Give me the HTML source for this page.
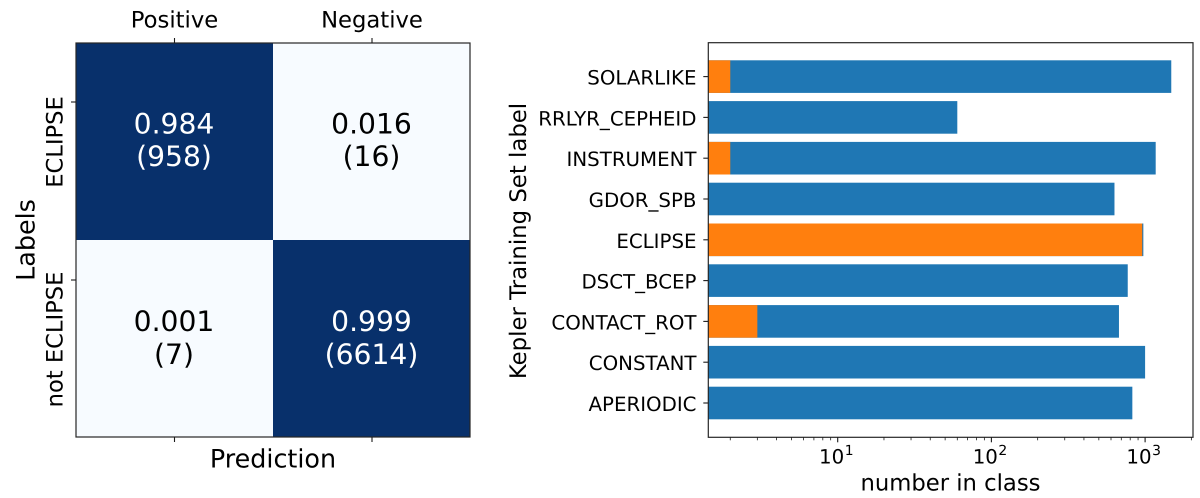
<!DOCTYPE html>
<html lang="en">
<head>
<meta charset="utf-8">
<title>Confusion matrix and Kepler training set classes</title>
<style>
html,body{margin:0;padding:0;background:#fff;}
svg{display:block;font-family:"DejaVu Sans","Liberation Sans",sans-serif;text-rendering:geometricPrecision;filter:blur(0.35px);}
</style>
</head>
<body>
<svg id="fig" width="1200" height="498" viewBox="0 0 1200 498" xmlns="http://www.w3.org/2000/svg"></svg>
<script>
// Confusion matrix data
const matrixColumns = ['Positive', 'Negative'];
const matrixRows = ['ECLIPSE', 'not ECLIPSE'];
const matrixRates = [[0.984, 0.016], [0.001, 0.999]];
const matrixCounts = [[958, 16], [7, 6614]];

// Bar chart data
const categories = ['APERIODIC', 'CONSTANT', 'CONTACT_ROT', 'DSCT_BCEP', 'ECLIPSE', 'GDOR_SPB', 'INSTRUMENT', 'RRLYR_CEPHEID', 'SOLARLIKE'];
const totalCounts = [826, 1000, 676, 771, 974, 632, 1172, 60, 1480];
const eclipseCounts = [0, 0, 3, 0, 958, 0, 2, 0, 2];
const xTickExponents = [1, 2, 3];
const xMinorDecades = [0, 1, 2, 3];
const xMinorMultipliers = [2, 3, 4, 5, 6, 7, 8, 9];

const svg = document.getElementById('fig');
const NS = 'http://www.w3.org/2000/svg';
const INK = '#1a1a1a';
const SPINE = '#262626';

function make(tag, attrs, parent) {
  const el = document.createElementNS(NS, tag);
  for (const k in attrs) el.setAttribute(k, attrs[k]);
  (parent || svg).appendChild(el);
  return el;
}
function label(str, x, y, size, anchor, rot, fill) {
  const attrs = { x: x, y: y, 'font-size': size, 'text-anchor': anchor, fill: fill || '#000' };
  if (rot) attrs.transform = 'rotate(' + rot + ' ' + x + ' ' + y + ')';
  const t = make('text', attrs);
  t.textContent = str;
  return t;
}
function slug(s) { return s.toLowerCase().replace(/[^a-z0-9]+/g, '-'); }

/* ---------- Confusion matrix ---------- */
const mL = 76, mR = 470, mT = 43, mB = 437;
const mColX = i => mL + (mR - mL) / 2 * i;
const mRowY = i => mT + (mB - mT) / 2 * i;
const colTick = [174.5, 372];
const rowTick = [102, 280];
const rowLabelCenter = [142, 339.5];
const textBase = [[133.5, 166], [331, 364]];

matrixRates.forEach((row, r) => {
  row.forEach((rate, c) => {
    const dark = rate > 0.5;
    const cell = make('rect', { x: mColX(c), y: mRowY(r), width: (mR - mL) / 2, height: (mB - mT) / 2, fill: dark ? '#08306b' : '#f7fbff' });
    
    
  });
});
matrixRates.forEach((row, r) => {
  row.forEach((rate, c) => {
    const dark = rate > 0.5;
    const cx = colTick[c] - 0.5;
    const a = label(rate.toFixed(3), cx, textBase[r][0], 28.2, 'middle', 0, dark ? '#fff' : '#000');
    
    
    const b = label('(' + matrixCounts[r][c] + ')', cx, textBase[r][1], 28.2, 'middle', 0, dark ? '#fff' : '#000');
    
    
  });
});
const mFrame = make('rect', { x: mL, y: mT, width: mR - mL, height: mB - mT, fill: 'none', stroke: SPINE, 'stroke-width': 1.2 });



matrixColumns.forEach((name, c) => {
  const x = colTick[c];
  const t1 = make('line', { x1: x, x2: x, y1: mT, y2: mT - 5, stroke: INK, 'stroke-width': 1.1 });
  
  
  const t2 = make('line', { x1: x, x2: x, y1: mB, y2: mB + 5, stroke: INK, 'stroke-width': 1.1 });
  
  
  const l = label(name, x, 27.5, 22.7, 'middle');
  
  
});
matrixRows.forEach((name, r) => {
  const t = make('line', { x1: mL, x2: mL - 5, y1: rowTick[r], y2: rowTick[r], stroke: INK, 'stroke-width': 1.1 });
  
  
  const l = label(name, 62.5, rowLabelCenter[r], 22.6, 'middle', -90);
  
  
});
const mxTitle = label('Prediction', 273, 467.5, 25.4, 'middle');


const myTitle = label('Labels', 34.5, 240, 25.4, 'middle', -90);



/* ---------- Bar chart ---------- */
const pL = 708.3, pR = 1193, pT = 42.7, pB = 437.3;
const DECADE = 153.7, X10 = 837.7;
const xScale = v => X10 + DECADE * (Math.log10(v) - 1);
const yScale = i => 403 - 40.8 * i;
const BAR_H = 32.6;

categories.forEach((name, i) => {
  const y = yScale(i) - BAR_H / 2;
  const blue = make('rect', { x: pL, y: y, width: xScale(totalCounts[i]) - pL, height: BAR_H, fill: '#1f77b4' });
  
  
  if (eclipseCounts[i] > 0) {
    const orange = make('rect', { x: pL, y: y, width: xScale(eclipseCounts[i]) - pL, height: BAR_H, fill: '#ff7f0e' });
    
    
  }
  const tick = make('line', { x1: pL, x2: pL - 5, y1: yScale(i), y2: yScale(i), stroke: INK, 'stroke-width': 1.1 });
  
  
  const l = label(name, 696.5, yScale(i) + 8, 19.8, 'end');
  
  
});
const pFrame = make('rect', { x: pL, y: pT, width: pR - pL, height: pB - pT, fill: 'none', stroke: SPINE, 'stroke-width': 1.2 });



xMinorDecades.forEach(d => {
  xMinorMultipliers.forEach(m => {
    const x = xScale(m * Math.pow(10, d));
    if (x < pL || x > pR) return;
    const t = make('line', { x1: x, x2: x, y1: pB, y2: pB + 3, stroke: INK, 'stroke-width': 0.8 });
    
    
  });
});
xTickExponents.forEach(e => {
  const x = xScale(Math.pow(10, e));
  const t = make('line', { x1: x, x2: x, y1: pB, y2: pB + 5, stroke: INK, 'stroke-width': 1.1 });
  
  
  const base = label('10', x + 6.5, 463.3, 19.8, 'end');
  
  
  const sup = label(String(e), x + 7, 455, 13.9, 'start');
  
  
});
const pxTitle = label('number in class', 950.5, 490.5, 22.7, 'middle');


const pyTitle = label('Kepler Training Set label', 526, 241, 22.8, 'middle', -90);


</script>
</body>
</html>
